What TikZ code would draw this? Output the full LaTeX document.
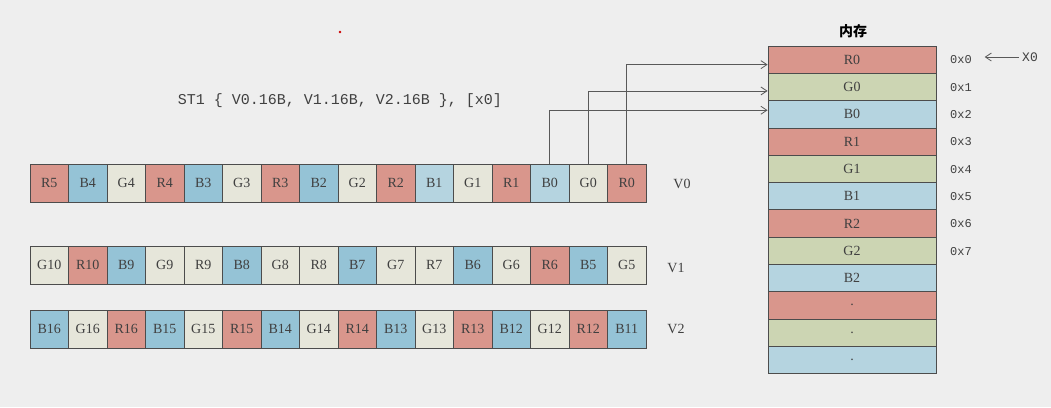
\documentclass[tikz,border=0pt]{standalone}
\usepackage{fontspec}
\setmainfont{Liberation Serif}
\setmonofont{Liberation Mono}
\newfontfamily\cjk{Noto Sans CJK SC}
\usetikzlibrary{arrows.meta}
\definecolor{cr}{HTML}{D9968C}
\definecolor{cb}{HTML}{95C3D6}
\definecolor{cl}{HTML}{E6E6DA}
\definecolor{cq}{HTML}{B5D4E0}
\definecolor{cg}{HTML}{CCD5B3}
\definecolor{bg}{HTML}{EEEEEE}
\tikzset{cell/.style={draw=black!70,line width=0.8pt,minimum width=38.5pt,minimum height=38pt,inner sep=0pt,font=\fontsize{14}{14}\selectfont,text=black!75},
mem/.style={draw=black!70,line width=0.8pt,minimum width=168pt,minimum height=27.3pt,inner sep=0pt,font=\fontsize{14}{14}\selectfont,text=black!75},
lab/.style={font=\fontsize{14}{14}\selectfont,text=black!75},
conn/.style={draw=black!65,line width=0.8pt,-{Straight Barb[length=6pt,width=8pt]}}}
\begin{document}
\begin{tikzpicture}[x=1pt,y=-1pt]
\fill[bg] (0,0) rectangle (1051,407);
\useasboundingbox (0,0) rectangle (1051,407);
\fill[red!80!black] (340,32) circle (1.3);
\node[lab,font=\ttfamily\fontsize{15}{15}\selectfont] (ins) at (340,101) {ST1 \{ V0.16B, V1.16B, V2.16B \}, [x0]};
\foreach \t/\c [count=\i from 0] in {R5/cr,B4/cb,G4/cl,R4/cr,B3/cb,G3/cl,R3/cr,B2/cb,G2/cl,R2/cr,B1/cq,G1/cl,R1/cr,B0/cq,G0/cl,R0/cr}
  \node[cell,fill=\c] (a\i) at ({49.25+38.5*\i},183) {\t};
\foreach \t/\c [count=\i from 0] in {G10/cl,R10/cr,B9/cb,G9/cl,R9/cl,B8/cb,G8/cl,R8/cl,B7/cb,G7/cl,R7/cl,B6/cb,G6/cl,R6/cr,B5/cb,G5/cl}
  \node[cell,fill=\c] (b\i) at ({49.25+38.5*\i},265) {\t};
\foreach \t/\c [count=\i from 0] in {B16/cb,G16/cl,R16/cr,B15/cb,G15/cl,R15/cr,B14/cb,G14/cl,R14/cr,B13/cb,G13/cl,R13/cr,B12/cb,G12/cl,R12/cr,B11/cb}
  \node[cell,fill=\c] (c\i) at ({49.25+38.5*\i},329) {\t};
\node[lab] (v0) at (682,184) {V0};
\node[lab] (v1) at (676,268) {V1};
\node[lab] (v2) at (676,329) {V2};
\node[font=\cjk\bfseries\fontsize{14}{14}\selectfont] (title) at (853,31) {内存};
\foreach \t/\c [count=\i from 0] in {R0/cr,G0/cg,B0/cq,R1/cr,G1/cg,B1/cq,R2/cr,G2/cg,B2/cq,./cr,./cg,./cq}
  \node[mem,fill=\c] (m\i) at (852,{59.65+27.3*\i}) {\t};
\foreach \i in {0,...,7}
  \node[lab,font=\ttfamily\fontsize{12}{12}\selectfont] (ad\i) at (961,{60+27.3*\i}) {0x\i};
\node[lab,font=\ttfamily\fontsize{13}{13}\selectfont] (x0) at (1030,57) {X0};
\draw[conn] (x0.west) -- ++(-34,0) coordinate (xe);
\draw[conn] (a13.north) |- ([yshift=4pt]m2.west);
\draw[conn] (a14.north) |- ([yshift=-4pt]m1.west);
\draw[conn] (a15.north) |- ([yshift=-5pt]m0.west);
\end{tikzpicture}
\end{document}
